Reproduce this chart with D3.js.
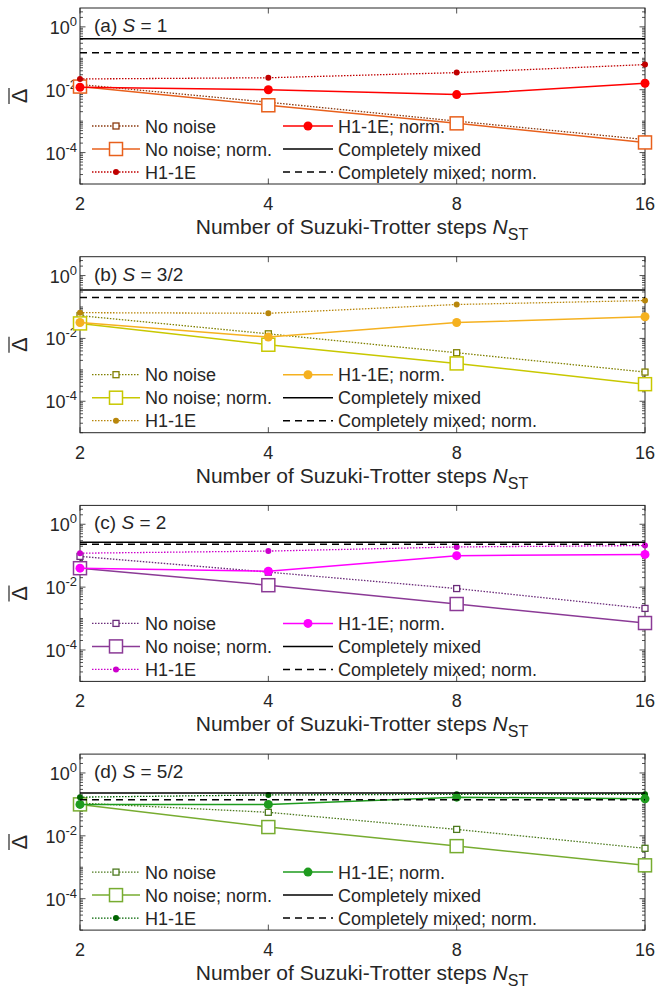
<!DOCTYPE html>
<html>
	<head>
		<meta charset="utf-8">
		<title>Suzuki-Trotter steps</title>
		<script src="https://d3js.org/d3.v7.min.js"></script>
		<style>
			body { margin: 0; background-color: white; }
			#plot { width: 658px; height: 994px; }
			text { font-family: 'Liberation Sans', Arial, Helvetica, sans-serif; fill: #262626; }
		</style>
	</head>
	<body>
		<div id='plot'></div>
		<script>
			// data: one row per panel (a)-(d), columns = N_ST
			var steps = [2, 4, 8, 16]
			var panelLetters = ['(a)', '(b)', '(c)', '(d)']
			var spinLabels = ['1', '3/2', '2', '5/2']
			var noNoise = [
				[0.0146, 0.004, 0.001, 0.00026],
				[0.053, 0.014, 0.0035, 0.00085],
				[0.095, 0.03, 0.009, 0.0021],
				[0.11, 0.056, 0.016, 0.004]
			]
			var noNoiseNorm = [
				[0.0126, 0.0032, 0.00085, 0.00021],
				[0.03, 0.0063, 0.0016, 0.00035],
				[0.04, 0.0115, 0.0029, 0.00072],
				[0.1, 0.019, 0.0047, 0.00115]
			]
			var h1 = [
				[0.022, 0.024, 0.035, 0.063],
				[0.066, 0.063, 0.12, 0.16],
				[0.12, 0.14, 0.19, 0.21],
				[0.17, 0.2, 0.21, 0.21]
			]
			var h1Norm = [
				[0.012, 0.010, 0.007, 0.016],
				[0.032, 0.011, 0.032, 0.049],
				[0.04, 0.032, 0.1, 0.11],
				[0.1, 0.1, 0.17, 0.15]
			]
			var mixed = [0.42, 0.35, 0.27, 0.23]
			var mixedNorm = [0.15, 0.2, 0.23, 0.14]
			var yTickVals = [1e-4, 1e-2, 1]
			var yTickExp = ['-4', '-2', '0']

			// colours per panel: [no noise, no noise norm, H1-1E, H1-1E norm]
			var colors = [
				['#8B3A0F', '#E8601C', '#C00000', '#FF0000'],
				['#808000', '#C8C800', '#B8860B', '#F5B120'],
				['#6B2C7A', '#8B3A96', '#CC00CC', '#FF00FF'],
				['#4D7A1F', '#77AC30', '#006400', '#1E9B1E']
			]

			var W = 658, H = 994
			var left = 80, right = 645
			var boxH = 176
			var fs = 18

			var svg = d3.select('#plot').append('svg')
				.attr('width', W)
				.attr('height', H)

			var x = d3.scaleLog().base(2).domain([2, 16]).range([left, right])

			panelLetters.forEach(function(letter, p) {
				var top = 8 + p * 248.7
				var bottom = top + boxH
				var y = d3.scaleLog().domain([1e-5, Math.pow(10, 0.6)]).range([bottom, top])
				var g = svg.append('g')

				// box
				g.append('rect')
					.attr('x', left).attr('y', top)
					.attr('width', right - left).attr('height', boxH)
					.attr('fill', 'white')
					.attr('stroke', '#262626').attr('stroke-width', 1)

				// y ticks (major + minor), inward on both sides
				var minor = []
				for (var e = -5; e <= 0; e++) {
					for (var m = 1; m <= 9; m++) {
						var v = m * Math.pow(10, e)
						if (v <= Math.pow(10, 0.6)) minor.push({v: v, major: m === 1 && e % 2 === 0})
					}
				}
				minor.forEach(function(t) {
					var len = t.major ? 5.5 : 3
					var yy = y(t.v)
					g.append('line').attr('x1', left).attr('x2', left + len).attr('y1', yy).attr('y2', yy)
						.attr('stroke', '#262626').attr('stroke-width', 0.8)
					g.append('line').attr('x1', right).attr('x2', right - len).attr('y1', yy).attr('y2', yy)
						.attr('stroke', '#262626').attr('stroke-width', 0.8)
				})
				yTickVals.forEach(function(v, i) {
					var t = g.append('text')
						.attr('x', left - 3)
						.attr('y', y(v) + 7)
						.attr('text-anchor', 'end')
						.style('font-size', fs + 'px')
					t.append('tspan').text('10')
					t.append('tspan').attr('dy', -8).style('font-size', '13px').text(yTickExp[i])
				})

				// x ticks
				steps.forEach(function(s) {
					g.append('line').attr('x1', x(s)).attr('x2', x(s)).attr('y1', bottom).attr('y2', bottom - 5.5)
						.attr('stroke', '#262626').attr('stroke-width', 0.8)
					g.append('line').attr('x1', x(s)).attr('x2', x(s)).attr('y1', top).attr('y2', top + 5.5)
						.attr('stroke', '#262626').attr('stroke-width', 0.8)
					g.append('text')
						.attr('x', x(s)).attr('y', bottom + 26)
						.attr('text-anchor', 'middle')
						.style('font-size', fs + 'px')
						.text(s)
				})

				// x label
				var xl = g.append('text')
					.attr('x', 362).attr('y', bottom + 50)
					.attr('text-anchor', 'middle')
					.style('font-size', '21px')
				xl.append('tspan').text('Number of Suzuki-Trotter steps ')
				xl.append('tspan').style('font-style', 'italic').text('N')
				xl.append('tspan').attr('dy', 6).style('font-size', '16px').text('ST')

				// y label: Delta with overline, rotated
				var yl = g.append('g').attr('transform', 'translate(27,' + (top + boxH / 2) + ') rotate(-90)')
				yl.append('text')
					.attr('x', 0).attr('y', 0)
					.attr('text-anchor', 'middle')
					.style('font-size', '22px')
					.text('Δ')
				yl.append('line')
					.attr('x1', -8).attr('x2', 8).attr('y1', -18).attr('y2', -18)
					.attr('stroke', '#262626').attr('stroke-width', 1.2)

				// panel title
				var tt = g.append('text')
					.attr('x', 94).attr('y', top + 24)
					.style('font-size', '19px')
				tt.append('tspan').text(letter + ' ')
				tt.append('tspan').style('font-style', 'italic').text('S')
				tt.append('tspan').text(' = ' + spinLabels[p])

				var line = d3.line()
					.x(function(d) { return x(d[0]) })
					.y(function(d) { return y(d[1]) })

				var series = [
					{vals: noNoise[p], color: colors[p][0], dash: '1.5,1.5', w: 1.3, marker: 'square', size: 6},
					{vals: noNoiseNorm[p], color: colors[p][1], dash: null, w: 1.5, marker: 'square', size: 13},
					{vals: h1[p], color: colors[p][2], dash: '1.5,1.5', w: 1.3, marker: 'circle', size: 6},
					{vals: h1Norm[p], color: colors[p][3], dash: null, w: 1.5, marker: 'circle', size: 9}
				]

				function drawMarker(sel, s, cx, cy) {
					if (s.marker === 'square') {
						sel.append('rect')
							.attr('x', cx - s.size / 2).attr('y', cy - s.size / 2)
							.attr('width', s.size).attr('height', s.size)
							.attr('fill', 'white').attr('stroke', s.color).attr('stroke-width', s.size > 8 ? 1.5 : 1.3)
					} else {
						sel.append('circle')
							.attr('cx', cx).attr('cy', cy).attr('r', s.size / 2)
							.attr('fill', s.color)
					}
				}

				series.forEach(function(s) {
					var pts = steps.map(function(st, i) { return [st, s.vals[i]] })
					g.append('path')
						.attr('d', line(pts))
						.attr('fill', 'none')
						.attr('stroke', s.color)
						.attr('stroke-width', s.w)
						.attr('stroke-dasharray', s.dash)
					pts.forEach(function(pt) { drawMarker(g, s, x(pt[0]), y(pt[1])) })
				})

				// completely mixed lines
				g.append('line')
					.attr('x1', x(2)).attr('x2', x(16))
					.attr('y1', y(mixed[p])).attr('y2', y(mixed[p]))
					.attr('stroke', 'black').attr('stroke-width', 1.5)
				g.append('line')
					.attr('x1', x(2)).attr('x2', x(16))
					.attr('y1', y(mixedNorm[p])).attr('y2', y(mixedNorm[p]))
					.attr('stroke', 'black').attr('stroke-width', 1.5)
					.attr('stroke-dasharray', '7,5')

				// legend
				var legItems = [
					{s: series[0], label: 'No noise', col: 0, row: 0},
					{s: series[1], label: 'No noise; norm.', col: 0, row: 1},
					{s: series[2], label: 'H1-1E', col: 0, row: 2},
					{s: series[3], label: 'H1-1E; norm.', col: 1, row: 0},
					{s: {color: 'black', dash: null, w: 1.5}, label: 'Completely mixed', col: 1, row: 1},
					{s: {color: 'black', dash: '7,5', w: 1.5}, label: 'Completely mixed; norm.', col: 1, row: 2}
				]
				var colX = [[92, 140, 145], [283, 333, 338]]
				legItems.forEach(function(it) {
					var ly = top + 118 + it.row * 23
					var cx = colX[it.col]
					g.append('line')
						.attr('x1', cx[0]).attr('x2', cx[1])
						.attr('y1', ly).attr('y2', ly)
						.attr('stroke', it.s.color)
						.attr('stroke-width', it.s.w)
						.attr('stroke-dasharray', it.s.dash)
					if (it.s.marker) drawMarker(g, it.s, (cx[0] + cx[1]) / 2, ly)
					g.append('text')
						.attr('x', cx[2]).attr('y', ly + 6.5)
						.style('font-size', fs + 'px')
						.text(it.label)
				})
			})
		</script>
	</body>
</html>
